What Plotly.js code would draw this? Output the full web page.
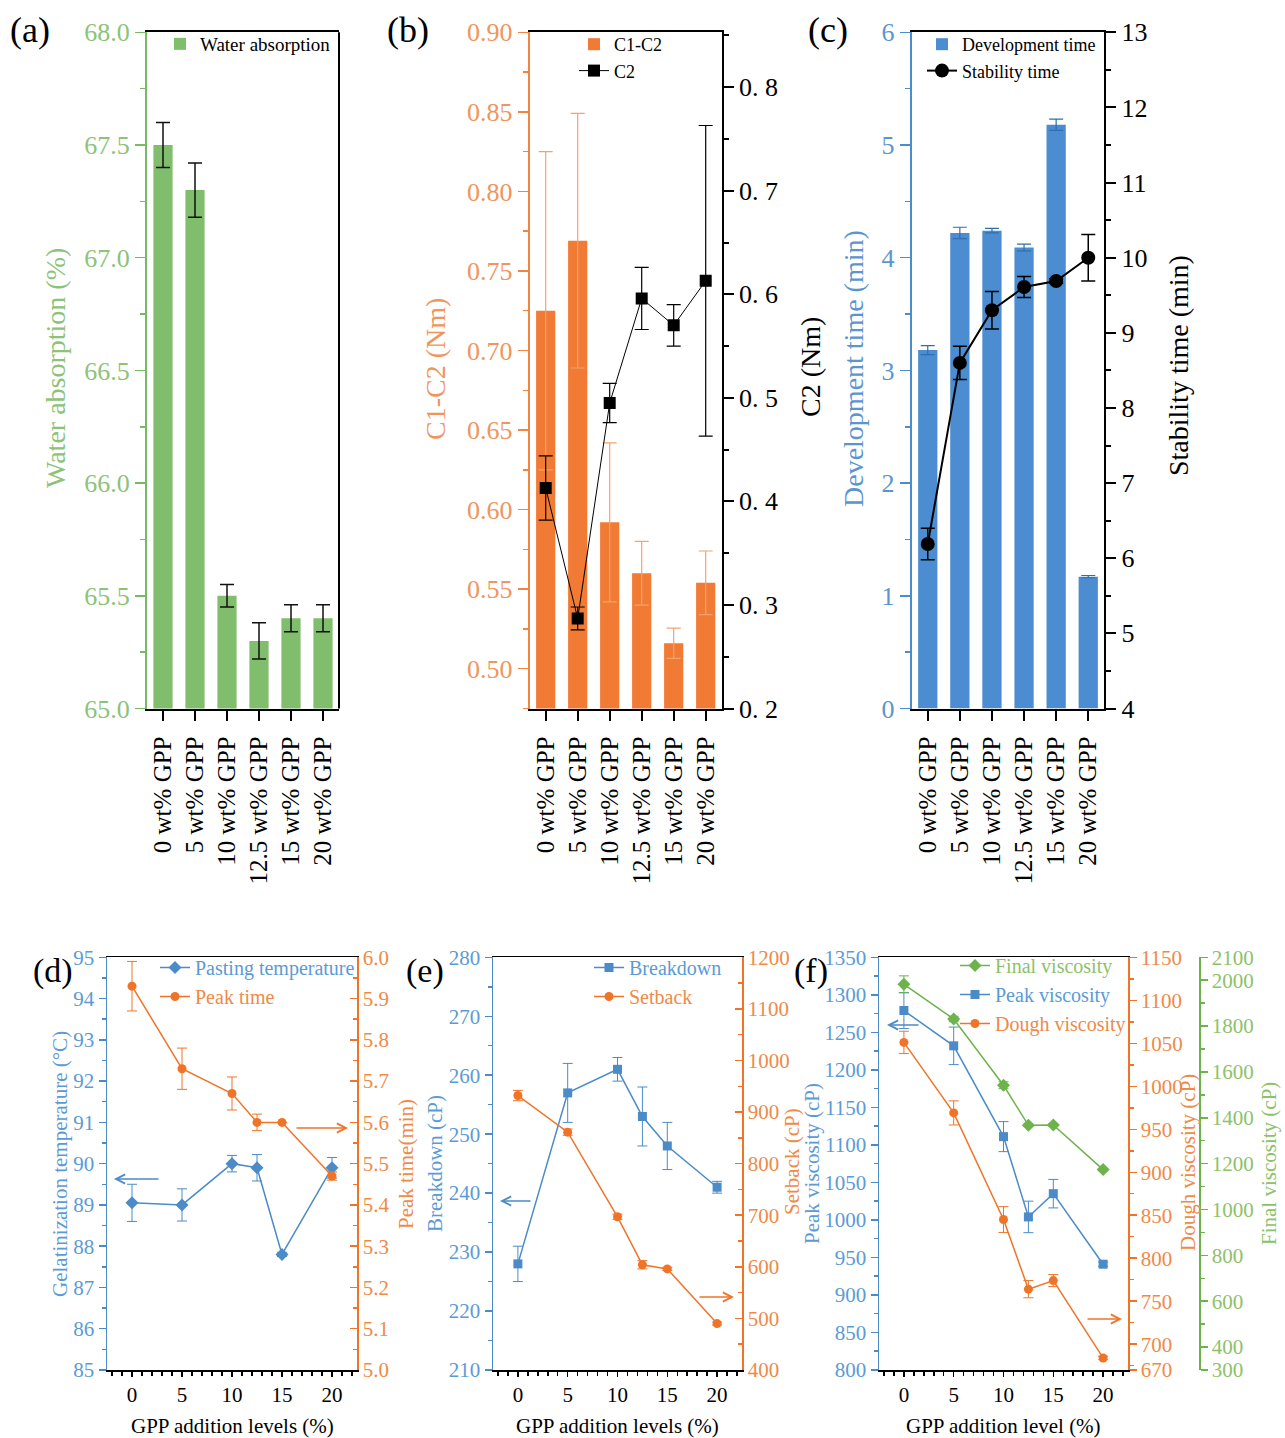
<!DOCTYPE html>
<html>
<head>
<meta charset="utf-8">
<script src="https://cdn.plot.ly/plotly-3.0.1.min.js"></script>
<style>html,body{margin:0;padding:0;background:#fff;}#chart{width:1285px;height:1438px;}</style>
</head>
<body>
<div id="chart"></div>
<script>
// ---------------- data ----------------
const categories = ['0 wt% GPP', '5 wt% GPP', '10 wt% GPP', '12.5 wt% GPP', '15 wt% GPP', '20 wt% GPP'];
const waterAbs = [67.5, 67.3, 65.5, 65.3, 65.4, 65.4];
const waterErr = [0.1, 0.12, 0.05, 0.08, 0.06, 0.06];
const c1c2 = [0.725, 0.769, 0.592, 0.560, 0.516, 0.554];
const c1c2Err = [0.1, 0.08, 0.05, 0.02, 0.0095, 0.02];
const c2 = [0.413, 0.287, 0.495, 0.596, 0.570, 0.613];
const c2Err = [0.031, 0.011, 0.019, 0.03, 0.02, 0.15];
const devTime = [3.18, 4.22, 4.24, 4.09, 5.18, 1.17];
const devErr = [0.04, 0.05, 0.02, 0.03, 0.05, 0.01];
const stabTime = [6.19, 8.6, 9.3, 9.61, 9.69, 10.0];
const stabErr = [0.21, 0.22, 0.25, 0.14, 0.03, 0.31];

const levels = [0, 5, 10, 12.5, 15, 20];
const pastTemp = [89.05, 89.0, 90.0, 89.9, 87.8, 89.9];
const pastErr = [0.45, 0.39, 0.2, 0.32, 0.05, 0.25];
const peakTime = [5.93, 5.73, 5.67, 5.60, 5.60, 5.47];
const peakTimeErr = [0.06, 0.05, 0.04, 0.02, 0.0, 0.01];
const breakdown = [228, 257, 261, 253, 248, 241];
const breakdownErr = [3, 5, 2, 5, 4, 1];
const setback = [932, 861, 697, 604, 596, 490];
const setbackErr = [10, 6, 5, 8, 3, 3];
const finalVisc = [1982, 1831, 1542, 1367, 1369, 1174];
const finalErr = [37, 12, 15, 5, 5, 5];
const peakVisc = [1279, 1232, 1111, 1004, 1035, 941];
const peakViscErr = [24, 25, 20, 21, 19, 3];
const doughVisc = [1051, 969, 845, 764, 774, 684];
const doughErr = [13, 14, 15, 10, 7, 2];

const c2TickAlias = {'0.2': '0. 2', '0.3': '0. 3', '0.4': '0. 4', '0.5': '0. 5', '0.6': '0. 6', '0.7': '0. 7', '0.8': '0. 8'};
const doughTicks = [670, 700, 750, 800, 850, 900, 950, 1000, 1050, 1100, 1150];
const finalTicks = [300, 400, 600, 800, 1000, 1200, 1400, 1600, 1800, 2000, 2100];

// ---------------- styling ----------------
const W = 1285, H = 1438;
const SERIF = 'Liberation Serif, Times New Roman, serif';
const px = v => v / W;
const py = v => (H - v) / H;

const greenBar = '#80bd6c', greenAxis = '#7ab964', greenText = '#8cc378';
const orangeBar = '#f17a35', orangeAxis = '#ef8644', orangeText = '#f0955c', orangeErr = '#f0a36c';
const blueBar = '#4b8dd0', blueAxis = '#4a8ccc', blueText = '#5a95d0';
const bBlue = '#4a8bc8', bOrange = '#f07428', bGreen = '#6db34c';
const bBlueText = '#5b9bd5', bOrangeText = '#ef8a47', bGreenText = '#8cc26a';

const topDom = [py(708.5), py(32.3)];
const botDom = [py(1370), py(957.3)];
const domA = [px(147), px(339)];
const domB = [px(529.7), px(721.7)];
const domC = [px(911.7), px(1104.3)];
const domD = [px(107), px(357)];
const domE = [px(493), px(742)];
const domF = [px(879), px(1128)];

function topX(domain, anchor) {
  return {domain, anchor, type: 'category', range: [-0.5, 5.5], showline: true, linecolor: '#000',
    linewidth: 2, mirror: true, ticks: 'outside', ticklen: 10, tickwidth: 2, tickcolor: '#000',
    tickangle: -90, ticklabelstandoff: 6, tickfont: {family: SERIF, size: 25, color: '#000'},
    showgrid: false, zeroline: false, fixedrange: true};
}
function yAx(o) {
  const base = {showgrid: false, zeroline: false, showline: true, linewidth: 2, ticks: 'outside',
    ticklen: 10, tickwidth: 1.5, fixedrange: true};
  const r = Object.assign(base, o);
  r.tickcolor = o.tickcolor || o.linecolor;
  r.minor = Object.assign({ticks: r.ticks, ticklen: 5, tickwidth: 1.5, tickcolor: r.tickcolor}, o.minor || {});
  return r;
}
function botX(domain, anchor) {
  return {domain, anchor, range: [-2.5, 22.5], dtick: 5, tick0: 0, showline: true, linecolor: '#000',
    linewidth: 1.5, mirror: true, ticks: 'outside', ticklen: 5, tickwidth: 1.5, tickcolor: '#000',
    minor: {dtick: 1, tick0: 0, ticks: 'outside', ticklen: 4, tickwidth: 1.5, tickcolor: '#000'},
    tickfont: {family: SERIF, size: 21, color: '#000'}, showgrid: false, zeroline: false, fixedrange: true};
}
function errOpt(arr, color, width, thick) {
  return {type: 'data', array: arr, visible: true, color: color, thickness: thick || 1.5, width: width || 7};
}
const span = (c, t) => '<span style="color:' + c + '">' + t + '</span>';

// ---------------- traces ----------------
const traces = [
  // (a)
  {type: 'bar', x: categories, y: waterAbs, xaxis: 'x', yaxis: 'y', width: 0.6, name: 'Water absorption',
   marker: {color: greenBar}, error_y: errOpt(waterErr, '#111', 7, 1.5), legend: 'legend'},
  // (b)
  {type: 'bar', x: categories, y: c1c2, xaxis: 'x2', yaxis: 'y2', width: 0.6, name: 'C1-C2',
   marker: {color: orangeBar}, error_y: errOpt(c1c2Err, orangeErr, 7, 1.2), legend: 'legend2'},
  {type: 'scatter', mode: 'lines+markers', x: categories, y: c2, xaxis: 'x2', yaxis: 'y3', name: 'C2',
   line: {color: '#000', width: 1}, marker: {symbol: 'square', size: 12, color: '#000'},
   error_y: errOpt(c2Err, '#000', 7, 1.2), legend: 'legend2'},
  // (c)
  {type: 'bar', x: categories, y: devTime, xaxis: 'x3', yaxis: 'y4', width: 0.6, name: 'Development time',
   marker: {color: blueBar}, error_y: errOpt(devErr, '#2f6fae', 7, 1.2), legend: 'legend3'},
  {type: 'scatter', mode: 'lines+markers', x: categories, y: stabTime, xaxis: 'x3', yaxis: 'y5', name: 'Stability time',
   line: {color: '#000', width: 2}, marker: {symbol: 'circle', size: 14, color: '#000'},
   error_y: errOpt(stabErr, '#000', 7, 1.5), legend: 'legend3'},
  // (d)
  {type: 'scatter', mode: 'lines+markers', x: levels, y: pastTemp, xaxis: 'x4', yaxis: 'y6',
   name: span(bBlueText, 'Pasting temperature'), line: {color: bBlue, width: 1.5},
   marker: {symbol: 'diamond', size: 10, color: bBlue}, error_y: errOpt(pastErr, bBlue, 5, 1), legend: 'legend4'},
  {type: 'scatter', mode: 'lines+markers', x: levels, y: peakTime, xaxis: 'x4', yaxis: 'y7',
   name: span(bOrangeText, 'Peak time'), line: {color: bOrange, width: 1.5},
   marker: {symbol: 'circle', size: 9, color: bOrange}, error_y: errOpt(peakTimeErr, bOrange, 5, 1), legend: 'legend4'},
  // (e)
  {type: 'scatter', mode: 'lines+markers', x: levels, y: breakdown, xaxis: 'x5', yaxis: 'y8',
   name: span(bBlueText, 'Breakdown'), line: {color: bBlue, width: 1.5},
   marker: {symbol: 'square', size: 9, color: bBlue}, error_y: errOpt(breakdownErr, bBlue, 5, 1), legend: 'legend5'},
  {type: 'scatter', mode: 'lines+markers', x: levels, y: setback, xaxis: 'x5', yaxis: 'y9',
   name: span(bOrangeText, 'Setback'), line: {color: bOrange, width: 1.5},
   marker: {symbol: 'circle', size: 9, color: bOrange}, error_y: errOpt(setbackErr, bOrange, 5, 1), legend: 'legend5'},
  // (f)
  {type: 'scatter', mode: 'lines+markers', x: levels, y: finalVisc, xaxis: 'x6', yaxis: 'y12',
   name: span(bGreenText, 'Final viscosity'), line: {color: bGreen, width: 1.5},
   marker: {symbol: 'diamond', size: 10, color: bGreen}, error_y: errOpt(finalErr, bGreen, 5, 1), legend: 'legend6'},
  {type: 'scatter', mode: 'lines+markers', x: levels, y: peakVisc, xaxis: 'x6', yaxis: 'y10',
   name: span(bBlueText, 'Peak viscosity'), line: {color: bBlue, width: 1.5},
   marker: {symbol: 'square', size: 9, color: bBlue}, error_y: errOpt(peakViscErr, bBlue, 5, 1), legend: 'legend6'},
  {type: 'scatter', mode: 'lines+markers', x: levels, y: doughVisc, xaxis: 'x6', yaxis: 'y11',
   name: span(bOrangeText, 'Dough viscosity'), line: {color: bOrange, width: 1.5},
   marker: {symbol: 'circle', size: 9, color: bOrange}, error_y: errOpt(doughErr, bOrange, 5, 1), legend: 'legend6'}
];

// ---------------- layout ----------------
const topTick = c => ({family: SERIF, size: 26, color: c});
const botTick = c => ({family: SERIF, size: 21, color: c});

function legendAt(x, yTop, size, color) {
  return {x: px(x), y: py(yTop), xanchor: 'left', yanchor: 'top', bgcolor: 'rgba(0,0,0,0)',
    borderwidth: 0, font: {family: SERIF, size: size, color: color || '#000'}, traceorder: 'normal',
    tracegroupgap: 0, itemclick: false, itemdoubleclick: false};
}

function rotTitle(text, x, y, size, color) {
  return {text, x: px(x), y: py(y), xref: 'paper', yref: 'paper', showarrow: false, textangle: -90,
    xanchor: 'center', yanchor: 'middle', font: {family: SERIF, size, color}};
}
function plainText(text, x, y, size, color, xanchor) {
  return {text, x: px(x), y: py(y), xref: 'paper', yref: 'paper', showarrow: false,
    xanchor: xanchor || 'center', yanchor: 'middle', font: {family: SERIF, size, color}};
}
function arrow(xHead, y, dx, color) {
  return {x: px(xHead), y: py(y), xref: 'paper', yref: 'paper', text: '', showarrow: true,
    ax: dx, ay: 0, arrowhead: 5, arrowsize: 1.2, arrowwidth: 1.5, arrowcolor: color};
}

const layout = {
  width: W, height: H, margin: {l: 0, r: 0, t: 0, b: 0}, paper_bgcolor: '#fff', plot_bgcolor: 'rgba(0,0,0,0)',
  showlegend: true, bargap: 0.4,
  font: {family: SERIF, color: '#000'},
  // (a)
  xaxis: topX(domA, 'y'),
  yaxis: yAx({domain: topDom, anchor: 'x', range: [65, 68], dtick: 0.5, tick0: 65, tickformat: '.1f',
    linecolor: greenAxis, tickfont: topTick(greenText), minor: {dtick: 0.25, tick0: 65}}),
  // (b)
  xaxis2: topX(domB, 'y2'),
  yaxis2: yAx({domain: topDom, anchor: 'x2', range: [0.475, 0.9], dtick: 0.05, tick0: 0, tickformat: '.2f',
    linecolor: orangeAxis, tickfont: topTick(orangeText), minor: {dtick: 0.025, tick0: 0}}),
  yaxis3: yAx({overlaying: 'y2', anchor: 'x2', side: 'right', range: [0.2, 0.853], dtick: 0.1, tick0: 0,
    tickformat: '.1f', labelalias: c2TickAlias, linecolor: '#000', tickwidth: 2, tickfont: topTick('#000'),
    minor: {dtick: 0.05, tick0: 0, tickwidth: 2}}),
  // (c)
  xaxis3: topX(domC, 'y4'),
  yaxis4: yAx({domain: topDom, anchor: 'x3', range: [0, 6], dtick: 1, tick0: 0,
    linecolor: blueAxis, tickfont: topTick(blueText), minor: {dtick: 0.5, tick0: 0}}),
  yaxis5: yAx({overlaying: 'y4', anchor: 'x3', side: 'right', range: [4, 13], dtick: 1, tick0: 0,
    linecolor: '#000', tickwidth: 2, tickfont: topTick('#000'), minor: {dtick: 0.5, tick0: 0, tickwidth: 2}}),
  // (d)
  xaxis4: botX(domD, 'y6'),
  yaxis6: yAx({domain: botDom, anchor: 'x4', range: [85, 95], dtick: 1, tick0: 0, linewidth: 1.5, ticklen: 7,
    linecolor: bBlue, tickfont: botTick(bBlueText), minor: {dtick: 0.5, tick0: 0, ticklen: 4}}),
  yaxis7: yAx({overlaying: 'y6', anchor: 'x4', side: 'right', range: [5, 6], dtick: 0.1, tick0: 0, tickformat: '.1f',
    linewidth: 1.5, ticks: 'inside', ticklen: 7, linecolor: bOrange, tickfont: botTick(bOrangeText),
    minor: {dtick: 0.05, tick0: 0, ticklen: 4}}),
  // (e)
  xaxis5: botX(domE, 'y8'),
  yaxis8: yAx({domain: botDom, anchor: 'x5', range: [210, 280], dtick: 10, tick0: 0, linewidth: 1.5, ticklen: 7,
    linecolor: bBlue, tickfont: botTick(bBlueText), minor: {dtick: 5, tick0: 0, ticklen: 4}}),
  yaxis9: yAx({overlaying: 'y8', anchor: 'x5', side: 'right', range: [400, 1200], dtick: 100, tick0: 0,
    linewidth: 1.5, ticks: 'inside', ticklen: 7, linecolor: bOrange, tickfont: botTick(bOrangeText),
    minor: {dtick: 50, tick0: 0, ticklen: 4}}),
  // (f)
  xaxis6: botX(domF, 'y10'),
  yaxis10: yAx({domain: botDom, anchor: 'x6', range: [800, 1350], dtick: 50, tick0: 0, linewidth: 1.5, ticklen: 7,
    linecolor: bBlue, tickfont: botTick(bBlueText), minor: {dtick: 25, tick0: 0, ticklen: 4}}),
  yaxis11: yAx({overlaying: 'y10', anchor: 'x6', side: 'right', range: [670, 1150], tickmode: 'array',
    tickvals: doughTicks, linewidth: 1.5, ticklen: 7, linecolor: bOrange, tickfont: botTick(bOrangeText),
    minor: {tickmode: 'linear', dtick: 25, tick0: 0, ticklen: 4}}),
  yaxis12: yAx({overlaying: 'y10', anchor: 'free', position: px(1199), side: 'right', range: [300, 2100],
    tickmode: 'array', tickvals: finalTicks, linewidth: 1.5, ticklen: 7, linecolor: bGreen,
    tickfont: botTick(bGreenText), minor: {tickmode: 'linear', dtick: 100, tick0: 0, ticklen: 4}}),

  legend: legendAt(160, 25, 19),
  legend2: legendAt(574, 26, 18),
  legend3: legendAt(922, 26, 18),
  legend4: legendAt(155, 948, 20),
  legend5: legendAt(589, 948, 20),
  legend6: legendAt(955, 946, 20),

  shapes: [
    {type: 'line', xref: 'paper', yref: 'paper', x0: domA[1], x1: domA[1], y0: topDom[0], y1: topDom[1],
     line: {color: '#000', width: 2}}
  ],
  annotations: [
    plainText('(a)', 8, 30, 36, '#000', 'left'),
    plainText('(b)', 385, 30, 36, '#000', 'left'),
    plainText('(c)', 806, 30, 36, '#000', 'left'),
    plainText('(d)', 31, 971, 34, '#000', 'left'),
    plainText('(e)', 404, 971, 34, '#000', 'left'),
    plainText('(f)', 792, 971, 34, '#000', 'left'),

    rotTitle('Water absorption (%)', 55, 368, 28, greenText),
    rotTitle('C1-C2 (Nm)', 435, 369, 28, orangeText),
    rotTitle('C2 (Nm)', 810, 367, 28, '#000'),
    rotTitle('Development time (min)', 853, 369, 28, blueText),
    rotTitle('Stability time (min)', 1178, 366, 28, '#000'),

    rotTitle('Gelatinization temperature (°C)', 60, 1164, 21, bBlueText),
    rotTitle('Peak time(min)', 406, 1164, 21, bOrangeText),
    rotTitle('Breakdown (cP)', 435, 1164, 21, bBlueText),
    rotTitle('Setback (cP)', 792, 1162, 21, bOrangeText),
    rotTitle('Peak viscosity (cP)', 812, 1164, 21, bBlueText),
    rotTitle('Dough viscosity (cP)', 1188, 1163, 21, bOrangeText),
    rotTitle('Final viscosity (cP)', 1269, 1164, 21, bGreenText),

    plainText('GPP addition levels (%)', 232, 1426, 21, '#000'),
    plainText('GPP addition levels (%)', 617, 1426, 21, '#000'),
    plainText('GPP addition level (%)', 1003, 1426, 21, '#000'),

    arrow(114, 1179, 46, bBlue),
    arrow(348, 1128, -53, bOrange),
    arrow(500, 1201, 32, bBlue),
    arrow(734, 1297, -36, bOrange),
    arrow(887, 1025, 33, bBlue),
    arrow(1122, 1319, -36, bOrange)
  ]
};

Plotly.newPlot('chart', traces, layout, {staticPlot: true, displayModeBar: false});
</script>
</body>
</html>
